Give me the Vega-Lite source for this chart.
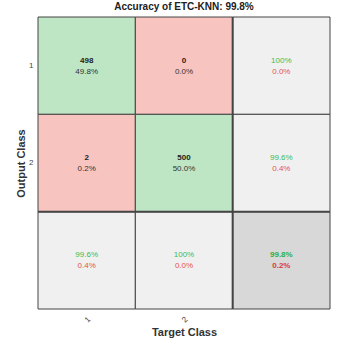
{
  "$schema": "https://vega.github.io/schema/vega-lite/v6.json",
  "width": 292,
  "height": 292,
  "autosize": {"type": "none"},
  "padding": {"left": 38, "top": 17, "right": 17, "bottom": 40},
  "background": "white",
  "title": {"text": "Accuracy of ETC-KNN: 99.8%", "font": "Liberation Sans", "fontSize": 10, "fontWeight": "bold", "color": "#222", "anchor": "middle", "offset": 4},
  "config": {"view": {"stroke": null}},
  "data": {"values": [
    {"row": "1", "col": "1", "kind": "correct", "t1": "498", "t2": "49.8%"},
    {"row": "1", "col": "2", "kind": "wrong", "t1": "0", "t2": "0.0%"},
    {"row": "1", "col": "S", "kind": "summary", "t1": "100%", "t2": "0.0%"},
    {"row": "2", "col": "1", "kind": "wrong", "t1": "2", "t2": "0.2%"},
    {"row": "2", "col": "2", "kind": "correct", "t1": "500", "t2": "50.0%"},
    {"row": "2", "col": "S", "kind": "summary", "t1": "99.6%", "t2": "0.4%"},
    {"row": "S", "col": "1", "kind": "summary", "t1": "99.6%", "t2": "0.4%"},
    {"row": "S", "col": "2", "kind": "summary", "t1": "100%", "t2": "0.0%"},
    {"row": "S", "col": "S", "kind": "total", "t1": "99.8%", "t2": "0.2%"}
  ]},
  "encoding": {
    "x": {"field": "col", "type": "ordinal", "scale": {"domain": ["1", "2", "S"], "paddingInner": 0, "paddingOuter": 0},
      "axis": {"title": "Target Class", "labelExpr": "datum.value == 'S' ? '' : datum.value", "labelAngle": -45, "ticks": false, "domain": false, "labelPadding": 6, "labelFont": "Liberation Sans", "labelFontSize": 8, "labelColor": "#444", "titleFont": "Liberation Sans", "titleFontSize": 11, "titleFontWeight": "bold", "titleColor": "#333", "titlePadding": 3}},
    "y": {"field": "row", "type": "ordinal", "scale": {"domain": ["1", "2", "S"], "paddingInner": 0, "paddingOuter": 0},
      "axis": {"title": "Output Class", "labelExpr": "datum.value == 'S' ? '' : datum.value", "labelAngle": 0, "ticks": false, "domain": false, "labelPadding": 5, "labelFont": "Liberation Sans", "labelFontSize": 8, "labelColor": "#444", "titleFont": "Liberation Sans", "titleFontSize": 11, "titleFontWeight": "bold", "titleColor": "#333", "titlePadding": 2}}
  },
  "layer": [
    {"mark": {"type": "rect", "stroke": "#444", "strokeWidth": 1},
      "encoding": {"fill": {"field": "kind", "type": "nominal", "legend": null,
        "scale": {"domain": ["correct", "wrong", "summary", "total"], "range": ["#BEE6C4", "#F7C4C0", "#F0F0F0", "#D8D8D8"]}}}},
    {"data": {"values": [{"b": "S"}]}, "mark": {"type": "rule", "stroke": "#444", "strokeWidth": 2},
      "encoding": {"x": {"field": "b", "type": "ordinal", "bandPosition": 0}, "y": null}},
    {"data": {"values": [{"b": "S"}]}, "mark": {"type": "rule", "stroke": "#444", "strokeWidth": 2},
      "encoding": {"y": {"field": "b", "type": "ordinal", "bandPosition": 0}, "x": null}},
    {"transform": [{"filter": "datum.kind == 'correct' || datum.kind == 'wrong'"}],
      "mark": {"type": "text", "font": "Liberation Sans", "fontSize": 8, "fontWeight": "bold", "color": "#222", "dy": -5},
      "encoding": {"text": {"field": "t1"}}},
    {"transform": [{"filter": "datum.kind == 'correct' || datum.kind == 'wrong'"}],
      "mark": {"type": "text", "font": "Liberation Sans", "fontSize": 8, "color": "#333", "dy": 6},
      "encoding": {"text": {"field": "t2"}}},
    {"transform": [{"filter": "datum.kind == 'summary'"}],
      "mark": {"type": "text", "font": "Liberation Sans", "fontSize": 8, "color": "#3DBB4E", "dy": -5},
      "encoding": {"text": {"field": "t1"}}},
    {"transform": [{"filter": "datum.kind == 'summary'"}],
      "mark": {"type": "text", "font": "Liberation Sans", "fontSize": 8, "color": "#E5534B", "dy": 6},
      "encoding": {"text": {"field": "t2"}}},
    {"transform": [{"filter": "datum.kind == 'total'"}],
      "mark": {"type": "text", "font": "Liberation Sans", "fontSize": 8, "fontWeight": "bold", "color": "#2FAF40", "dy": -5},
      "encoding": {"text": {"field": "t1"}}},
    {"transform": [{"filter": "datum.kind == 'total'"}],
      "mark": {"type": "text", "font": "Liberation Sans", "fontSize": 8, "fontWeight": "bold", "color": "#D93A33", "dy": 6},
      "encoding": {"text": {"field": "t2"}}}
  ]
}
